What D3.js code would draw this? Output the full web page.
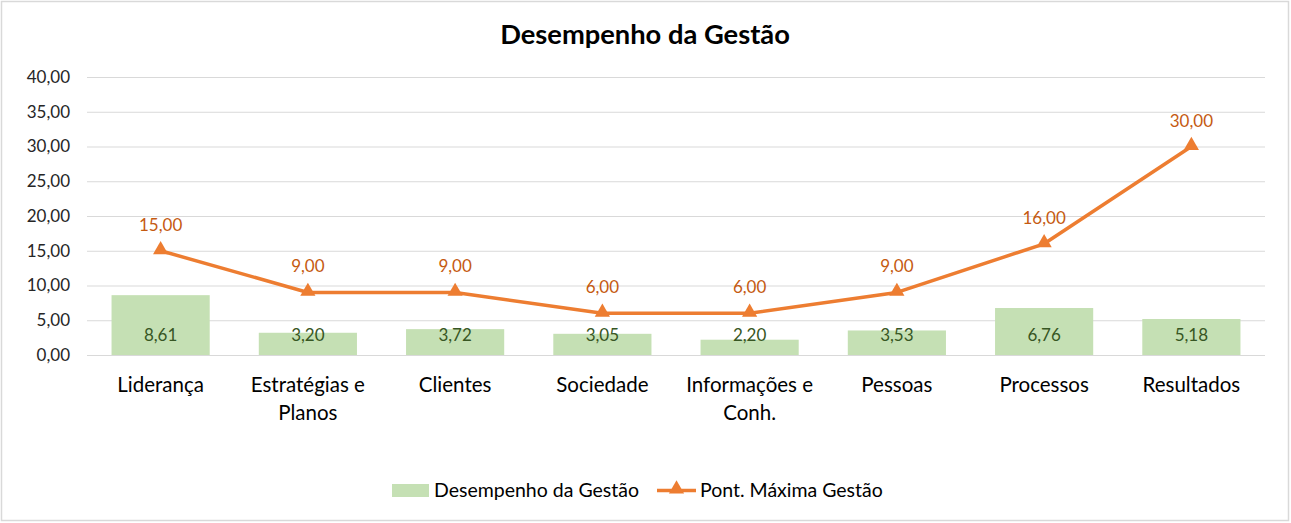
<!DOCTYPE html>
<html><head><meta charset="utf-8">
<script src="https://cdn.jsdelivr.net/npm/d3@7/dist/d3.min.js"></script>
<style>body{margin:0;background:#fff;} text{font-family:"Lato","Open Sans",sans-serif;}</style>
</head><body>
<svg id="c" width="1291" height="523"></svg>
<script>
const categories = ["Liderança","Estratégias e|Planos","Clientes","Sociedade","Informações e|Conh.","Pessoas","Processos","Resultados"];
const desempenho = [8.61,3.20,3.72,3.05,2.20,3.53,6.76,5.18];
const pontMaxima = [15,9,9,6,6,9,16,30];
const yTicks = [0,5,10,15,20,25,30,35,40];
const seriesNames = ["Desempenho da Gestão","Pont. Máxima Gestão"];
const title = "Desempenho da Gestão";

const svg = d3.select("#c");
const fmt = v => d3.format(".2f")(v).replace(".", ",");
svg.append("rect").attr("x",1.5).attr("y",1.5).attr("width",1287).attr("height",519)
  .attr("fill","#fff").attr("stroke","#d9d9d9").attr("stroke-width",1.5);

const L=87, R=1265, T=77, B=355;
const x = d3.scaleBand().domain(categories).range([L,R]).paddingInner(1/3).paddingOuter(1/6);
const xc = d3.scaleBand().domain(categories).range([L,R]);
const y = d3.scaleLinear().domain([0,40]).range([B,T]);

svg.append("text").attr("x",645).attr("y",44).attr("text-anchor","middle")
  .attr("font-size",27.3).attr("font-weight","bold").attr("fill","#000").text(title);

const ga = svg.append("g").attr("transform",`translate(${L},0)`)
  .call(d3.axisLeft(y).tickValues(yTicks).tickSize(-(R-L)).tickFormat(fmt));
ga.select(".domain").remove();
ga.selectAll(".tick line").attr("stroke","#d9d9d9").attr("stroke-width",1);
ga.selectAll(".tick text").attr("x",-17).attr("font-size",17).attr("fill","#262626").attr("font-family","Lato");

svg.selectAll(".bar").data(desempenho).enter().append("rect")
  .attr("x",(d,i)=>x(categories[i])).attr("width",x.bandwidth())
  .attr("y",d=>y(d)).attr("height",d=>B-y(d)).attr("fill","#c5e0b4");

svg.selectAll(".bl").data(desempenho).enter().append("text")
  .attr("x",(d,i)=>x(categories[i])+x.bandwidth()/2).attr("y",B-14)
  .attr("text-anchor","middle").attr("font-size",17).attr("fill","#375623").text(d=>fmt(d));

const cx = i => xc(categories[i]) + xc.bandwidth()/2;
const line = d3.line().x((d,i)=>cx(i)).y(d=>y(d));
svg.append("path").datum(pontMaxima).attr("d",line).attr("fill","none")
  .attr("stroke","#ed7d31").attr("stroke-width",3.5).attr("stroke-linejoin","round");
const tri = d3.symbol().type(d3.symbolTriangle).size(100);
svg.selectAll(".m").data(pontMaxima).enter().append("path")
  .attr("d",tri).attr("transform",(d,i)=>`translate(${cx(i)},${y(d)-1})`).attr("fill","#ed7d31");
svg.selectAll(".ll").data(pontMaxima).enter().append("text")
  .attr("x",(d,i)=>cx(i)).attr("y",d=>y(d)-20).attr("text-anchor","middle")
  .attr("font-size",17).attr("fill","#c55a11").text(d=>fmt(d));

categories.forEach((c,i)=>{
  const lines = c.split("|");
  const t = svg.append("text").attr("x",cx(i)).attr("y",392).attr("text-anchor","middle")
    .attr("font-size",20.5).attr("fill","#000");
  lines.forEach((l,j)=>t.append("tspan").attr("x",cx(i)).attr("dy",j?28:0).text(l));
});

// legend
svg.append("rect").attr("x",392).attr("y",484).attr("width",37).attr("height",13).attr("fill","#c5e0b4");
svg.append("text").attr("x",434).attr("y",497).attr("font-size",19.5).attr("fill","#000").text(seriesNames[0]);
svg.append("line").attr("x1",657).attr("x2",696).attr("y1",490.5).attr("y2",490.5).attr("stroke","#ed7d31").attr("stroke-width",3.5);
svg.append("path").attr("d",tri).attr("transform","translate(676.5,489)").attr("fill","#ed7d31");
svg.append("text").attr("x",700).attr("y",497).attr("font-size",19.5).attr("fill","#000").text(seriesNames[1]);
</script>
</body></html>
